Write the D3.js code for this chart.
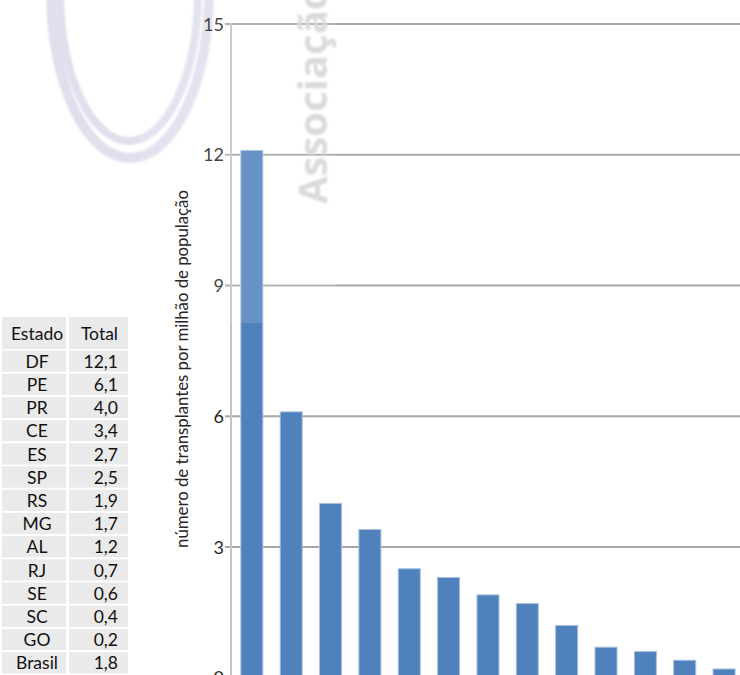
<!DOCTYPE html>
<html>
<head>
<meta charset="utf-8">
<script src="https://cdn.jsdelivr.net/npm/d3@7"></script>
<style>
  html, body { margin: 0; padding: 0; background: #fff; }
  svg { display: block; }
</style>
</head>
<body>
<svg id="chart" width="740" height="675"></svg>
<script>
// ---- data ----
const states = ["DF", "PE", "PR", "CE", "ES", "SP", "RS", "MG", "AL", "RJ", "SE", "SC", "GO"];
const barValues = [12.1, 6.1, 4.0, 3.4, 2.5, 2.3, 1.9, 1.7, 1.2, 0.7, 0.6, 0.4, 0.2];
const tableStates = ["DF", "PE", "PR", "CE", "ES", "SP", "RS", "MG", "AL", "RJ", "SE", "SC", "GO", "Brasil"];
const tableTotals = ["12,1", "6,1", "4,0", "3,4", "2,7", "2,5", "1,9", "1,7", "1,2", "0,7", "0,6", "0,4", "0,2", "1,8"];
const tableHeader = ["Estado", "Total"];
const yTicks = [0, 3, 6, 9, 12, 15];
const yTitle = "número de transplantes por milhão de população";
const watermarkText = "Associação";

const FONT = "Lato, 'Noto Sans', sans-serif";
const svg = d3.select("#chart");

const defs = svg.append("defs");
defs.append("filter").attr("id", "soft").append("feGaussianBlur").attr("stdDeviation", 0.9);

// ---- watermark logo rings ----
const logo = svg.append("g").attr("filter", "url(#soft)");
logo.append("ellipse").attr("cx", 130).attr("cy", -8).attr("rx", 79).attr("ry", 166)
  .attr("fill", "none").attr("stroke", "#dfdfed").attr("stroke-width", 10);
logo.append("ellipse").attr("cx", 129).attr("cy", -8).attr("rx", 69).attr("ry", 149)
  .attr("fill", "none").attr("stroke", "#dfdfed").attr("stroke-width", 8);

// ---- scales ----
const y = d3.scaleLinear().domain([0, 15]).range([677.7, 24]);
const step = 39.35;
const x = d3.scaleBand().domain(states)
  .range([231, 231 + step * 13.06])
  .paddingInner(0.44).paddingOuter(0.25);

// gridlines
const grid = svg.append("g");
grid.selectAll("line").data(yTicks).join("line")
  .attr("x1", 225).attr("x2", 740)
  .attr("y1", d => y(d)).attr("y2", d => y(d))
  .attr("stroke", "#a6a6a6").attr("stroke-width", 2);

// axis line
svg.append("line").attr("x1", 231).attr("x2", 231).attr("y1", y(15) - 1).attr("y2", 675)
  .attr("stroke", "#c4c4c4").attr("stroke-width", 2);

// tick labels
const yAxis = d3.axisLeft(y).tickValues(yTicks).tickSize(0).tickPadding(0);
const gAxis = svg.append("g").attr("transform", "translate(224,0)").call(yAxis);
gAxis.select(".domain").remove();
gAxis.selectAll("text").attr("font-family", FONT).attr("font-size", 18)
  .attr("fill", "#262626").attr("dy", "0.34em");

// bars
svg.append("g").selectAll("rect").data(states).join("rect")
  .attr("x", d => x(d))
  .attr("width", x.bandwidth())
  .attr("y", (d, i) => y(barValues[i]))
  .attr("height", (d, i) => y(0) - y(barValues[i]))
  .attr("fill", "#4f81bd")
  .attr("stroke", "#a9c1df").attr("stroke-width", 1);

// light overlay from watermark
svg.append("rect").attr("x", 140).attr("y", 0).attr("width", 196).attr("height", 323)
  .attr("fill", "#fff").attr("fill-opacity", 0.14);

// watermark text
svg.append("text")
  .attr("transform", "translate(327,204) rotate(-90)")
  .attr("font-family", "'Open Sans', sans-serif").attr("font-weight", 700)
  .attr("font-size", 40).attr("fill", "#dadada")
  .attr("filter", "url(#soft)")
  .text(watermarkText);

// y title
const title = svg.append("text")
  .attr("transform", "translate(188,369) rotate(-90)")
  .attr("text-anchor", "middle")
  .attr("font-family", FONT).attr("font-size", 15).attr("fill", "#262626")
  .text(yTitle);
const len = title.node().getComputedTextLength();
if (len > 0) title.attr("font-size", 15 * 358 / len);

// ---- table ----
const table = svg.append("g");
const colX = [2, 69];
const colW = [64, 59];
const headTop = 317, headH = 32;
const rowTop = 350.5, pitch = 23.2, rowH = 21.2;

table.selectAll("rect.h").data(tableHeader).join("rect").attr("class", "h")
  .attr("x", (d, i) => colX[i]).attr("y", headTop).attr("width", (d, i) => colW[i]).attr("height", headH)
  .attr("fill", "#eaeaea");
table.selectAll("text.h").data(tableHeader).join("text").attr("class", "h")
  .attr("x", (d, i) => i === 0 ? 37 : 118)
  .attr("y", headTop + headH / 2 + 1)
  .attr("dy", "0.35em")
  .attr("text-anchor", (d, i) => i === 0 ? "middle" : "end")
  .attr("font-family", FONT).attr("font-size", 17.5).attr("fill", "#111")
  .text(d => d);

const rows = table.selectAll("g.r").data(tableStates).join("g").attr("class", "r")
  .attr("transform", (d, i) => `translate(0,${rowTop + i * pitch})`);
rows.append("rect").attr("x", colX[0]).attr("width", colW[0]).attr("height", rowH).attr("fill", "#eaeaea");
rows.append("rect").attr("x", colX[1]).attr("width", colW[1]).attr("height", rowH).attr("fill", "#eaeaea");
rows.append("text").attr("x", 37).attr("y", rowH / 2 + 0.5).attr("dy", "0.35em")
  .attr("text-anchor", "middle").attr("font-family", FONT).attr("font-size", 17.5).attr("fill", "#111")
  .text(d => d);
rows.append("text").attr("x", 118).attr("y", rowH / 2 + 0.5).attr("dy", "0.35em")
  .attr("text-anchor", "end").attr("font-family", FONT).attr("font-size", 17.5).attr("fill", "#111")
  .text((d, i) => tableTotals[i]);
</script>
</body>
</html>
